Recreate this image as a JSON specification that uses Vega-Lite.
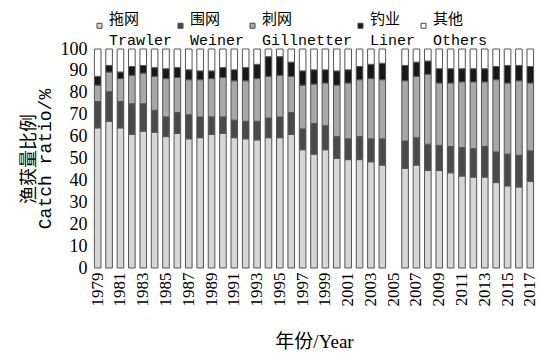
{
  "$schema": "https://vega.github.io/schema/vega-lite/v6.json",
  "width": 444,
  "height": 219,
  "autosize": "none",
  "padding": {"left": 92, "top": 49, "right": 5, "bottom": 86},
  "background": "white",
  "config": {"view": {"stroke": null}, "font": "Liberation Serif, Noto Sans CJK SC"},
  "data": {"values": [
    {"year": "1979", "Trawler": 64, "Weiner": 12, "Gillnetter": 7.5, "Liner": 4, "Others": 12.5},
    {"year": "1980", "Trawler": 67, "Weiner": 13.5, "Gillnetter": 9, "Liner": 3, "Others": 7.5},
    {"year": "1981", "Trawler": 64, "Weiner": 12, "Gillnetter": 10.5, "Liner": 3, "Others": 10.5},
    {"year": "1982", "Trawler": 61, "Weiner": 14, "Gillnetter": 13, "Liner": 4, "Others": 8},
    {"year": "1983", "Trawler": 62.5, "Weiner": 12.5, "Gillnetter": 14, "Liner": 3.5, "Others": 7.5},
    {"year": "1984", "Trawler": 62, "Weiner": 10, "Gillnetter": 15.5, "Liner": 4, "Others": 8.5},
    {"year": "1985", "Trawler": 60, "Weiner": 9, "Gillnetter": 17.5, "Liner": 4.5, "Others": 9},
    {"year": "1986", "Trawler": 61.5, "Weiner": 9.5, "Gillnetter": 16, "Liner": 4.5, "Others": 8.5},
    {"year": "1987", "Trawler": 59, "Weiner": 11, "Gillnetter": 16, "Liner": 4.5, "Others": 9.5},
    {"year": "1988", "Trawler": 59.5, "Weiner": 9.5, "Gillnetter": 17, "Liner": 4, "Others": 10},
    {"year": "1989", "Trawler": 61, "Weiner": 8, "Gillnetter": 17.5, "Liner": 3.5, "Others": 10},
    {"year": "1990", "Trawler": 61.5, "Weiner": 7.5, "Gillnetter": 18, "Liner": 4.5, "Others": 8.5},
    {"year": "1991", "Trawler": 59.5, "Weiner": 8, "Gillnetter": 18, "Liner": 5, "Others": 9.5},
    {"year": "1992", "Trawler": 59, "Weiner": 8, "Gillnetter": 18.5, "Liner": 6, "Others": 8.5},
    {"year": "1993", "Trawler": 58.5, "Weiner": 8.5, "Gillnetter": 19.5, "Liner": 6.5, "Others": 7},
    {"year": "1994", "Trawler": 59.5, "Weiner": 9, "Gillnetter": 19, "Liner": 9, "Others": 3.5},
    {"year": "1995", "Trawler": 59.5, "Weiner": 9.5, "Gillnetter": 19, "Liner": 8.5, "Others": 3.5},
    {"year": "1996", "Trawler": 61, "Weiner": 10, "Gillnetter": 16.5, "Liner": 6.5, "Others": 6},
    {"year": "1997", "Trawler": 54, "Weiner": 9.5, "Gillnetter": 20, "Liner": 6.5, "Others": 10},
    {"year": "1998", "Trawler": 52, "Weiner": 14, "Gillnetter": 18, "Liner": 6.5, "Others": 9.5},
    {"year": "1999", "Trawler": 54, "Weiner": 11, "Gillnetter": 19.5, "Liner": 6, "Others": 9.5},
    {"year": "2000", "Trawler": 50, "Weiner": 10, "Gillnetter": 23.5, "Liner": 6.5, "Others": 10},
    {"year": "2001", "Trawler": 49.5, "Weiner": 9.5, "Gillnetter": 25.5, "Liner": 6, "Others": 9.5},
    {"year": "2002", "Trawler": 49.5, "Weiner": 10.5, "Gillnetter": 26, "Liner": 6, "Others": 8},
    {"year": "2003", "Trawler": 48.5, "Weiner": 10.5, "Gillnetter": 27.5, "Liner": 6.5, "Others": 7},
    {"year": "2004", "Trawler": 47, "Weiner": 12, "Gillnetter": 27, "Liner": 7.5, "Others": 6.5},
    {"year": "2006", "Trawler": 45.5, "Weiner": 12.5, "Gillnetter": 27.5, "Liner": 7, "Others": 7.5},
    {"year": "2007", "Trawler": 47, "Weiner": 12.5, "Gillnetter": 28, "Liner": 6.5, "Others": 6},
    {"year": "2008", "Trawler": 44.5, "Weiner": 12, "Gillnetter": 32, "Liner": 6, "Others": 5.5},
    {"year": "2009", "Trawler": 44.5, "Weiner": 11.5, "Gillnetter": 28.5, "Liner": 6.5, "Others": 9},
    {"year": "2010", "Trawler": 43.5, "Weiner": 12, "Gillnetter": 29, "Liner": 6.5, "Others": 9},
    {"year": "2011", "Trawler": 42, "Weiner": 13, "Gillnetter": 30, "Liner": 6, "Others": 9},
    {"year": "2012", "Trawler": 41.5, "Weiner": 13, "Gillnetter": 30.5, "Liner": 6, "Others": 9},
    {"year": "2013", "Trawler": 41.5, "Weiner": 14, "Gillnetter": 29.5, "Liner": 6, "Others": 9},
    {"year": "2014", "Trawler": 39, "Weiner": 14, "Gillnetter": 33, "Liner": 6, "Others": 8},
    {"year": "2015", "Trawler": 37.5, "Weiner": 14.5, "Gillnetter": 32.5, "Liner": 8, "Others": 7.5},
    {"year": "2016", "Trawler": 37, "Weiner": 14.5, "Gillnetter": 34, "Liner": 7, "Others": 7.5},
    {"year": "2017", "Trawler": 39.5, "Weiner": 14, "Gillnetter": 31, "Liner": 7.5, "Others": 8}
  ]},
  "transform": [
    {"fold": ["Trawler", "Weiner", "Gillnetter", "Liner", "Others"], "as": ["type", "value"]},
    {"lookup": "type", "from": {"data": {"values": [
      {"type": "Trawler", "rank": 1}, {"type": "Weiner", "rank": 2}, {"type": "Gillnetter", "rank": 3}, {"type": "Liner", "rank": 4}, {"type": "Others", "rank": 5}
    ]}, "key": "type", "fields": ["rank"]}}
  ],
  "mark": {"type": "bar", "stroke": "#555555", "strokeWidth": 1},
  "encoding": {
    "x": {
      "field": "year", "type": "ordinal",
      "scale": {
        "domain": ["1979","1980","1981","1982","1983","1984","1985","1986","1987","1988","1989","1990","1991","1992","1993","1994","1995","1996","1997","1998","1999","2000","2001","2002","2003","2004","2005","2006","2007","2008","2009","2010","2011","2012","2013","2014","2015","2016","2017"],
        "paddingInner": 0.42, "paddingOuter": 0.21
      },
      "axis": {
        "title": "年份/Year", "titleFont": "Liberation Serif, Noto Sans CJK SC", "titleFontSize": 19, "titleFontWeight": "normal", "titleColor": "#000", "titlePadding": 26,
        "labelAngle": 270, "labelAlign": "right", "labelBaseline": "middle", "labelFontSize": 17, "labelColor": "#000", "labelPadding": 4,
        "labelExpr": "toNumber(datum.value) % 2 == 1 ? datum.value : ''",
        "ticks": false, "domain": false, "grid": false
      }
    },
    "y": {
      "field": "value", "type": "quantitative", "stack": "zero",
      "scale": {"domain": [0, 100]},
      "axis": {
        "title": ["渔获量比例", "Catch ratio/%"], "titleFont": "Liberation Mono, Noto Sans CJK SC", "titleFontSize": 18, "titleFontWeight": "normal", "titleColor": "#000", "titlePadding": 6, "titleLineHeight": 16,
        "values": [0,10,20,30,40,50,60,70,80,90,100], "labelFontSize": 18, "labelColor": "#000", "labelPadding": 5,
        "ticks": false, "domain": false, "grid": false
      }
    },
    "order": {"field": "rank", "type": "quantitative", "sort": "ascending"},
    "color": {
      "field": "type", "type": "nominal",
      "sort": ["Trawler", "Weiner", "Gillnetter", "Liner", "Others"],
      "scale": {"domain": ["Trawler", "Weiner", "Gillnetter", "Liner", "Others"], "range": ["#d6d6d6", "#4a4a4a", "#a8a8a8", "#181818", "#ffffff"]},
      "legend": {
        "title": null, "orient": "top", "direction": "horizontal", "columns": 5, "offset": 1,
        "symbolType": "square", "symbolSize": 25, "symbolStrokeColor": "#444", "symbolStrokeWidth": 1,
        "labelFont": "Liberation Mono, Noto Sans CJK SC", "labelFontSize": 15, "labelColor": "#000", "labelLimit": 200,
        "labelBaseline": "top", "labelOffset": 2, "columnPadding": 0,
        "labelExpr": "datum.label == 'Trawler' ? ['拖网','Trawler'] : datum.label == 'Weiner' ? ['围网','Weiner'] : datum.label == 'Gillnetter' ? ['刺网','Gillnetter'] : datum.label == 'Liner' ? ['钓业','Liner'] : ['其他','Others']",
        "encode": {"labels": {"update": {"lineHeight": {"value": 21}, "fontSize": {"value": 15}, "dy": {"value": -14}}}}
      }
    }
  }
}
